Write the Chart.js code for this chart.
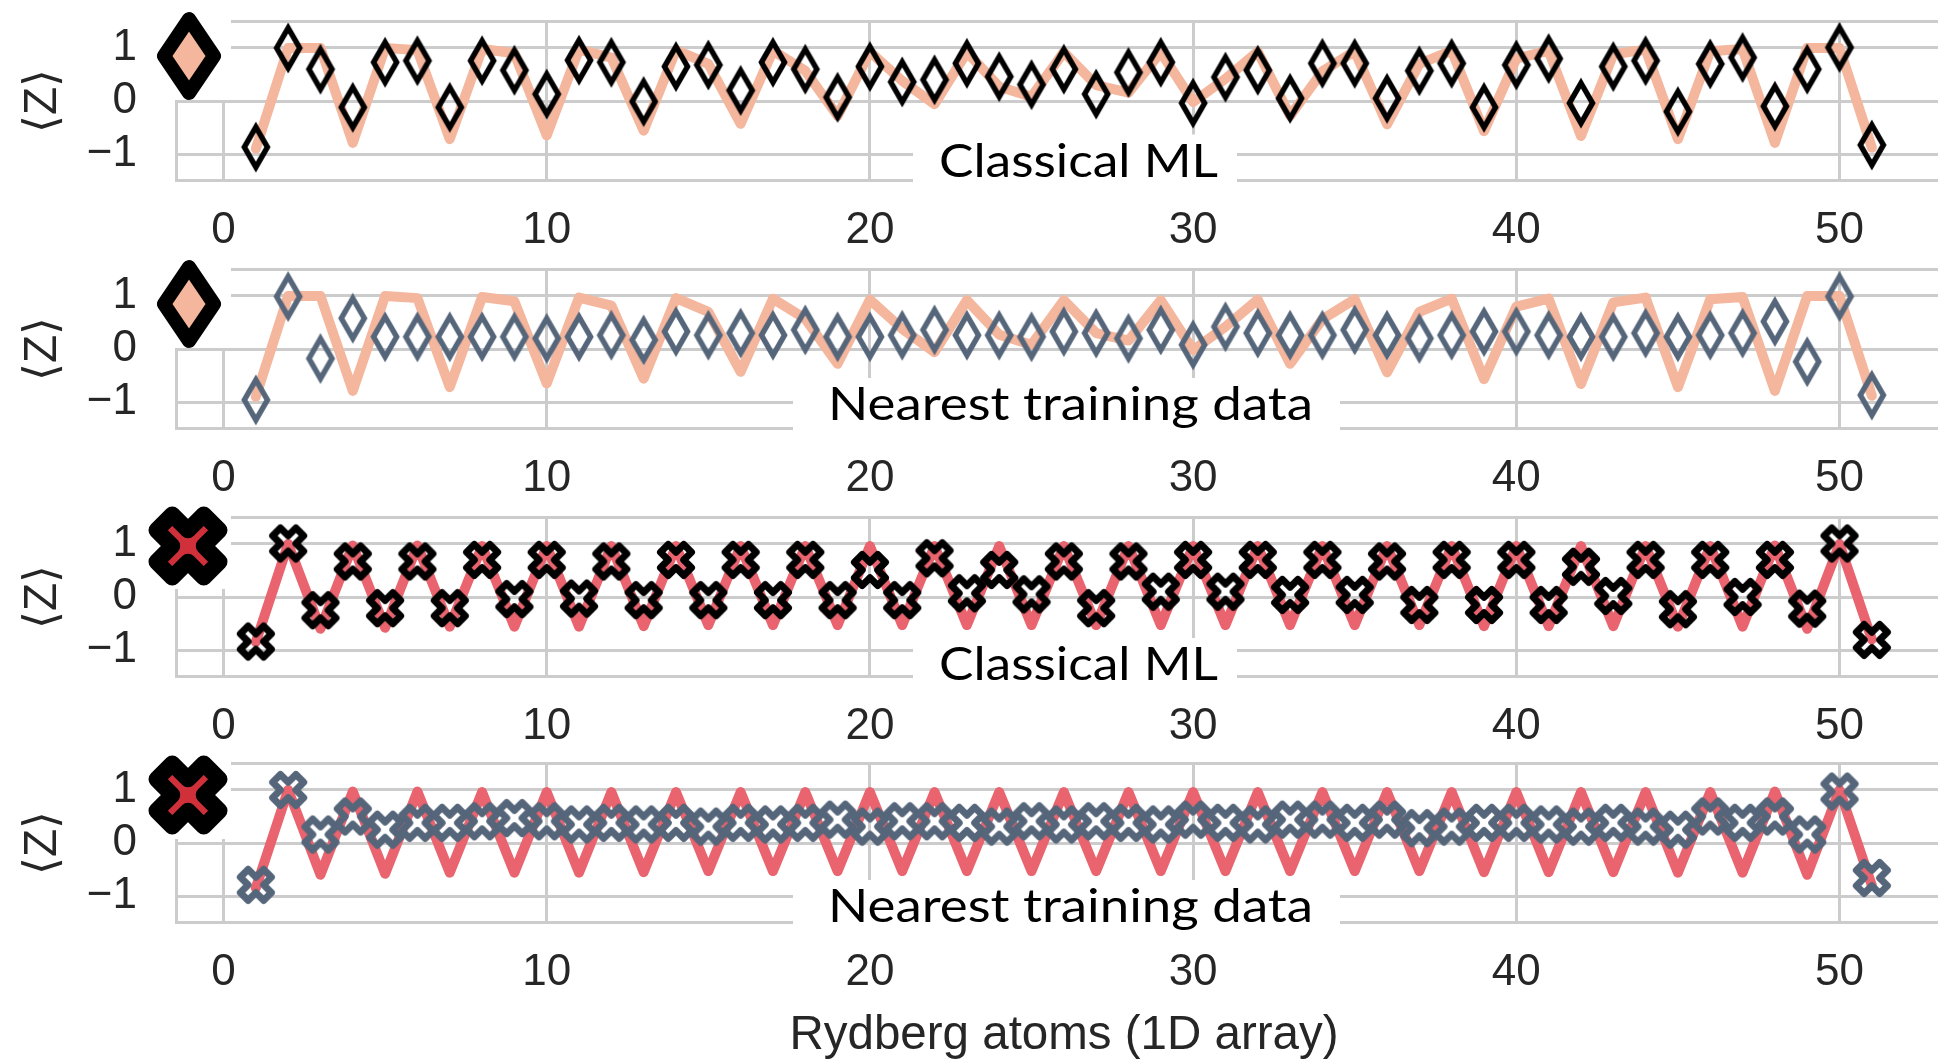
<!DOCTYPE html>
<html>
<head>
<meta charset="utf-8">
<title>Rydberg atoms - predicted magnetization</title>
<script src="https://cdn.jsdelivr.net/npm/chart.js@4.4.1/dist/chart.umd.min.js"></script>
<style>
  html, body { margin: 0; padding: 0; background: #ffffff; overflow: hidden; width: 1938px; height: 1060px; }
  .panel { position: absolute; left: 0; width: 1952px; }
  .panel canvas { display: block; }
</style>
</head>
<body>
<div class="panel" style="top:0px"><canvas id="p1" width="1952" height="248"></canvas></div>
<div class="panel" style="top:248px"><canvas id="p2" width="1952" height="248"></canvas></div>
<div class="panel" style="top:496px"><canvas id="p3" width="1952" height="246"></canvas></div>
<div class="panel" style="top:742px"><canvas id="p4" width="1952" height="318"></canvas></div>
<script>
/* data */
const atoms = [1, 2, 3, 4, 5, 6, 7, 8, 9, 10, 11, 12, 13, 14, 15, 16, 17, 18, 19, 20,
    21, 22, 23, 24, 25, 26, 27, 28, 29, 30, 31, 32, 33, 34, 35, 36, 37, 38, 39, 40,
    41, 42, 43, 44, 45, 46, 47, 48, 49, 50, 51];
const xTicks = [0, 10, 20, 30, 40, 50];
const yTicks = [-1.5, -1, 0, 1, 1.5];
const panelLabels = ['Classical ML', 'Nearest training data', 'Classical ML', 'Nearest training data'];
const xTitle = 'Rydberg atoms (1D array)';
const yTitle = '\u27e8Z\u27e9';

// top two panels
const truthA = [-0.9, 1.0, 1.0, -0.79, 1.0, 0.96, -0.72, 0.98, 0.9, -0.65,
    0.97, 0.82, -0.56, 0.96, 0.7, -0.43, 0.95, 0.57, -0.28, 0.93,
    0.38, -0.06, 0.92, 0.27, 0.08, 0.92, 0.3, 0.16, 0.92, -0.02,
    0.42, 0.93, -0.28, 0.56, 0.94, -0.44, 0.7, 0.95, -0.57, 0.8,
    0.95, -0.66, 0.88, 0.97, -0.72, 0.94, 0.98, -0.79, 1.0, 1.0, -0.88];
const mlA = [-0.87, 1.0, 0.6, -0.12, 0.73, 0.76, -0.12, 0.76, 0.58, 0.13,
    0.77, 0.73, -0.01, 0.65, 0.68, 0.2, 0.73, 0.6, 0.07, 0.65,
    0.36, 0.4, 0.71, 0.46, 0.31, 0.6, 0.13, 0.54, 0.73, -0.04,
    0.45, 0.58, 0.05, 0.71, 0.71, 0.05, 0.57, 0.71, -0.12, 0.68,
    0.8, -0.04, 0.65, 0.76, -0.2, 0.7, 0.82, -0.1, 0.6, 1.01, -0.83];
const nearestA = [-0.96, 0.99, -0.18, 0.58, 0.23, 0.23, 0.23, 0.23, 0.23, 0.2,
    0.23, 0.26, 0.17, 0.33, 0.26, 0.3, 0.26, 0.36, 0.23, 0.23,
    0.26, 0.36, 0.26, 0.26, 0.23, 0.33, 0.3, 0.2, 0.36, 0.08,
    0.42, 0.3, 0.26, 0.26, 0.36, 0.26, 0.2, 0.26, 0.33, 0.33,
    0.26, 0.23, 0.23, 0.3, 0.23, 0.26, 0.3, 0.52, -0.24, 0.99, -0.87];

// bottom two panels
const truthB = [-0.85, 1.0, -0.6, 0.97, -0.58, 0.97, -0.56, 0.96, -0.56, 0.96,
    -0.56, 0.96, -0.55, 0.96, -0.53, 0.96, -0.53, 0.96, -0.53, 0.96,
    -0.53, 0.96, -0.53, 0.96, -0.53, 0.96, -0.53, 0.96, -0.53, 0.96,
    -0.53, 0.96, -0.53, 0.96, -0.53, 0.96, -0.53, 0.96, -0.55, 0.96,
    -0.55, 0.96, -0.55, 0.96, -0.56, 0.96, -0.56, 0.97, -0.6, 1.0, -0.8];
const mlB = [-0.84, 1.01, -0.25, 0.67, -0.21, 0.67, -0.21, 0.7, -0.04, 0.7,
    -0.03, 0.67, -0.06, 0.7, -0.06, 0.7, -0.06, 0.7, -0.06, 0.51,
    -0.06, 0.73, 0.07, 0.51, 0.05, 0.67, -0.21, 0.67, 0.1, 0.7,
    0.1, 0.7, 0.04, 0.7, 0.04, 0.67, -0.15, 0.7, -0.15, 0.7,
    -0.15, 0.57, 0.02, 0.7, -0.23, 0.7, 0.0, 0.7, -0.22, 1.01, -0.81];
const nearestB = [-0.79, 1.0, 0.16, 0.5, 0.25, 0.38, 0.38, 0.41, 0.47, 0.41,
    0.35, 0.38, 0.35, 0.38, 0.31, 0.38, 0.35, 0.38, 0.44, 0.31,
    0.41, 0.41, 0.38, 0.31, 0.41, 0.35, 0.41, 0.38, 0.35, 0.44,
    0.38, 0.35, 0.44, 0.44, 0.38, 0.44, 0.28, 0.31, 0.38, 0.38,
    0.35, 0.31, 0.38, 0.31, 0.25, 0.5, 0.38, 0.5, 0.16, 0.97, -0.66];

const peach = '#f4b69c';
const coral = '#e9646e';
const darkRed = '#d0303a';
const slate = '#55657a';
const gridGrey = '#cccccc';
const textGrey = '#262626';

/* marker pictures */
function diamondImg(w, h, lw, stroke, fill, join) {
    const c = document.createElement('canvas');
    c.width = Math.ceil(w + lw * 3) & ~1;
    c.height = Math.ceil(h + lw * 3) & ~1;
    const g = c.getContext('2d');
    const cx = c.width / 2, cy = c.height / 2;
    g.beginPath();
    g.moveTo(cx, cy - h / 2);
    g.lineTo(cx + w / 2, cy);
    g.lineTo(cx, cy + h / 2);
    g.lineTo(cx - w / 2, cy);
    g.closePath();
    if (fill) { g.fillStyle = fill; g.fill(); }
    g.lineJoin = join;
    g.lineWidth = lw;
    g.strokeStyle = stroke;
    g.stroke();
    return c;
}
function crossImg(s, lw, stroke, fill) {
    const pts = [[-1, -2], [0, -1], [1, -2], [2, -1], [1, 0], [2, 1],
        [1, 2], [0, 1], [-1, 2], [-2, 1], [-1, 0], [-2, -1]];
    const c = document.createElement('canvas');
    c.width = c.height = Math.ceil(s + lw * 2) & ~1;
    const g = c.getContext('2d');
    const cx = c.width / 2;
    g.beginPath();
    pts.forEach(function(p, i) {
        const px = cx + p[0] * s / 4, py = cx + p[1] * s / 4;
        if (i == 0) g.moveTo(px, py); else g.lineTo(px, py);
    });
    g.closePath();
    if (fill) { g.fillStyle = fill; g.fill(); }
    g.lineJoin = 'round';
    g.lineWidth = lw;
    g.strokeStyle = stroke;
    g.stroke();
    return c;
}

/* legend patch + white label box, drawn over grid and data */
const panelDecor = {
    id: 'panelDecor',
    afterDatasetsDraw(chart, args, o) {
        const ctx = chart.ctx;
        ctx.save();
        ctx.fillStyle = '#ffffff';
        ctx.fillRect(143, 0, 88, o.boxBottom);
        ctx.drawImage(o.legend, o.legendX - o.legend.width / 2, o.legendY - o.legend.height / 2);

        ctx.font = '46px Lato';
        const tw = ctx.measureText(o.label).width;
        const left = o.labelX - o.labelW / 2;
        ctx.fillStyle = '#ffffff';
        ctx.fillRect(left - o.pad[0], o.base - 42, o.labelW + o.pad[0] + o.pad[1], 60);
        ctx.fillStyle = '#000000';
        ctx.textBaseline = 'alphabetic';
        ctx.textAlign = 'left';
        ctx.translate(left, o.base);
        ctx.scale(o.labelW / tw, 1);
        ctx.fillText(o.label, 0, 0);
        ctx.restore();
    }
};

function points(vals) {
    return atoms.map(function(a, i) { return {x: a, y: vals[i]}; });
}

function makePanel(p) {
    const canvas = document.getElementById(p.id);
    const xh = canvas.height - 180.5;
    const tickFont = {family: 'Liberation Sans', size: 44, lineHeight: 0.9};
    return new Chart(canvas.getContext('2d'), {
        type: 'line',
        data: {
            datasets: [{
                data: points(p.pred),
                showLine: false,
                pointStyle: p.marker,
                pointRadius: 10,
                pointHoverRadius: 10,
                order: 0,
                clip: false
            }, {
                data: points(p.truth),
                borderColor: p.lineColor,
                borderWidth: 10,
                borderJoinStyle: 'round',
                borderCapStyle: 'round',
                pointRadius: 0,
                tension: 0,
                order: 1,
                clip: false
            }]
        },
        options: {
            responsive: false,
            animation: false,
            devicePixelRatio: 1,
            events: [],
            layout: { autoPadding: false, padding: {top: 21.5, left: 0, right: 0, bottom: 0} },
            plugins: {
                legend: { display: false },
                tooltip: { enabled: false },
                panelDecor: p.decor
            },
            scales: {
                x: {
                    type: 'linear',
                    min: -1.47,
                    max: 53.48,
                    afterBuildTicks: function(axis) { axis.ticks = xTicks.map(function(v) { return {value: v}; }); },
                    afterFit: function(axis) { axis.height = xh; },
                    ticks: { font: tickFont, color: textGrey, padding: 31, maxRotation: 0, autoSkip: false },
                    grid: { color: gridGrey, lineWidth: 3, drawTicks: false },
                    border: { display: false },
                    title: {
                        display: p.last,
                        text: xTitle,
                        color: textGrey,
                        font: {family: 'Liberation Sans', size: 47.5, lineHeight: 1},
                        padding: {top: 0, bottom: 0}
                    }
                },
                y: {
                    type: 'linear',
                    min: -1.5,
                    max: 1.5,
                    afterBuildTicks: function(axis) { axis.ticks = yTicks.map(function(v) { return {value: v}; }); },
                    afterFit: function(axis) { axis.width = 176; },
                    ticks: {
                        font: tickFont,
                        color: textGrey,
                        padding: 0,
                        autoSkip: false,
                        callback: function(v) {
                            if (!Number.isInteger(v)) return '';
                            return v < 0 ? '\u2212' + Math.abs(v) : String(v);
                        }
                    },
                    grid: { color: gridGrey, lineWidth: 3, drawTicks: true, tickLength: 39, tickColor: 'rgba(0,0,0,0)' },
                    border: { display: true, color: gridGrey, width: 3 },
                    title: {
                        display: true,
                        text: yTitle,
                        color: textGrey,
                        font: {family: 'Liberation Sans', size: 46, lineHeight: 1},
                        padding: {top: 20, bottom: 0}
                    }
                }
            }
        },
        plugins: [panelDecor]
    });
}

function buildAll() {
    const dBlack = diamondImg(23, 40, 5.5, '#000000', null, 'miter');
    const dSlate = diamondImg(23, 40, 5.5, slate, null, 'miter');
    const xBlack = crossImg(31, 7, '#000000', null);
    const xSlate = crossImg(31, 7, slate, null);
    const legDiamond = diamondImg(50, 74, 14, '#000000', peach, 'round');
    const legCross = crossImg(63, 16, '#000000', darkRed);

    makePanel({ id: 'p1', truth: truthA, pred: mlA, lineColor: peach, marker: dBlack, last: false,
        decor: { legend: legDiamond, legendX: 189, legendY: 56, boxBottom: 100,
            label: panelLabels[0], labelX: 1078.5, labelW: 279, base: 176.5, pad: [26, 19] } });
    makePanel({ id: 'p2', truth: truthA, pred: nearestA, lineColor: peach, marker: dSlate, last: false,
        decor: { legend: legDiamond, legendX: 189, legendY: 56, boxBottom: 100,
            label: panelLabels[1], labelX: 1070.5, labelW: 485, base: 172, pad: [35, 27] } });
    makePanel({ id: 'p3', truth: truthB, pred: mlB, lineColor: coral, marker: xBlack, last: false,
        decor: { legend: legCross, legendX: 188, legendY: 50, boxBottom: 93,
            label: panelLabels[2], labelX: 1078.5, labelW: 279, base: 184, pad: [26, 19] } });
    makePanel({ id: 'p4', truth: truthB, pred: nearestB, lineColor: coral, marker: xSlate, last: true,
        decor: { legend: legCross, legendX: 188, legendY: 53, boxBottom: 97,
            label: panelLabels[3], labelX: 1070.5, labelW: 485, base: 180, pad: [35, 27] } });
}

Promise.all([
    document.fonts.load('44px "Liberation Sans"'),
    document.fonts.load('46px Lato'),
    document.fonts.load('46px "DejaVu Sans"')
]).then(buildAll, buildAll);
</script>
</body>
</html>
